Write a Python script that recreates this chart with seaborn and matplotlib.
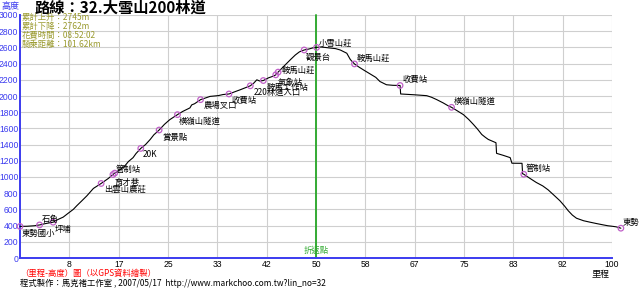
import numpy as np
import pandas as pd
import matplotlib
matplotlib.use("Agg")
import matplotlib.pyplot as plt
from matplotlib import font_manager
import seaborn as sns

# ---------------- data ----------------
dist = [0.0, 1.2, 2.4, 3.3, 4.3, 5.6, 6.4, 7.3, 8.2, 9.0, 9.6, 10.5, 11.3, 12.4, 13.7,
        14.9, 15.7, 16.0, 16.8, 17.7, 18.3, 19.1, 19.6, 20.4, 21.2, 22.0, 22.6, 23.5,
        24.4, 25.3, 26.6, 27.5, 28.7, 29.0, 29.5, 30.5, 31.3, 32.1, 33.5, 34.3, 35.3,
        36.2, 37.2, 38.0, 38.9, 39.5, 40.0, 40.5, 41.1, 42.0, 42.8, 43.2, 43.6, 44.8,
        45.7, 46.5, 47.2, 48.0, 48.8, 49.5, 50.1, 50.8, 51.5, 52.4, 53.3, 54.1, 55.2,
        55.8, 56.5, 57.2, 58.0, 59.4, 60.1, 60.8, 61.9, 63.0, 64.2, 64.3, 66.4, 67.6,
        68.7, 69.5, 70.4, 71.5, 72.3, 72.9, 73.8, 74.9, 75.8, 76.6, 77.3, 78.0, 78.6,
        79.1, 80.4, 80.5, 81.6, 82.8, 83.1, 84.8, 84.9, 85.1, 86.1, 87.2, 88.3, 89.2,
        90.2, 91.2, 92.0, 92.6, 93.3, 94.0, 95.2, 96.3, 97.4, 98.5, 99.3, 99.9, 100.7,
        101.5]
elev = [390, 392, 398, 408, 425, 442, 475, 505, 556, 600, 646, 710, 768, 859, 920,
        981, 1030, 1048, 1085, 1136, 1190, 1239, 1290, 1353, 1400, 1464, 1520, 1580,
        1650, 1708, 1770, 1810, 1853, 1890, 1905, 1955, 1975, 1995, 2005, 2018, 2025,
        2050, 2077, 2100, 2126, 2160, 2200, 2185, 2191, 2225, 2245, 2261, 2295, 2384,
        2450, 2506, 2545, 2568, 2580, 2595, 2600, 2605, 2600, 2592, 2585, 2568, 2528,
        2450, 2396, 2360, 2323, 2261, 2230, 2179, 2139, 2132, 2130, 2025, 2016, 2010,
        2004, 1985, 1955, 1914, 1880, 1860, 1820, 1770, 1710, 1648, 1590, 1525, 1490,
        1464, 1423, 1292, 1268, 1239, 1170, 1169, 1040, 1034, 985, 933, 890, 842,
        775, 707, 640, 584, 530, 491, 460, 442, 425, 409, 398, 393, 385,
        368]

wp_names = ["東勢國小", "石角", "坪埔", "出雲山農莊", "育才巷", "管制站", "20K", "賞景點",
            "橫嶺山隧道", "農場叉口", "收費站", "220林道入口", "鞍馬工作站", "氣象站",
            "鞍馬山莊", "觀景台", "小雪山莊", "鞍馬山莊", "收費站", "橫嶺山隧道",
            "管制站", "東勢"]
wp_dist = [0.0, 3.3, 5.6, 13.7, 15.7, 16.0, 20.4, 23.5, 26.6, 30.5, 35.3, 38.9, 41.1,
           43.2, 43.6, 48.0, 50.1, 56.5, 64.2, 72.9, 85.1, 101.5]
wp_elev = [390, 408, 442, 920, 1030, 1048, 1353, 1580, 1770, 1955, 2025, 2126, 2191,
           2261, 2295, 2568, 2600, 2396, 2130, 1860, 1034, 368]

xtick_labels = ["8", "17", "25", "33", "42", "50", "58", "67", "75", "83", "92", "100"]
yticks = list(range(0, 3001, 200))
turn_x = 50

title = "路線：32.大雪山200林道"
stats = ["累計上升：2745m", "累計下降：2762m", "花費時間：08:52:02", "騎乘距離：101.62km"]

# ---------------- style ----------------
sns.set_style("white")
plt.rcParams['font.family'] = ['Noto Sans CJK TC', 'DejaVu Sans']

installed = {f.name for f in font_manager.fontManager.ttflist}
num_family = "Liberation Sans Narrow" if "Liberation Sans Narrow" in installed else "Liberation Sans"

BLUE = "#3b3bef"
OLIVE = "#9a9a2e"
PURPLE = "#c060c8"
GREEN = "#33aa33"

fig = plt.figure(figsize=(6.4, 2.89), dpi=100)
ax = fig.add_axes([20/640, 31/289, 592/640, 243/289])

df = pd.DataFrame({"dist": dist, "elev": elev})
wp = pd.DataFrame({"name": wp_names, "dist": wp_dist, "elev": wp_elev})

ax.set_xlim(0, 100)
ax.set_ylim(0, 3000)

xt = [100 * (i + 1) / 12 for i in range(12)]
ax.set_xticks(xt)
ax.set_xticklabels(xtick_labels)
ax.set_yticks(yticks)
ax.set_yticklabels([str(v) for v in yticks])
ax.grid(True, color="#cfcfcf", linewidth=0.8)
ax.set_axisbelow(True)

for s in ["top", "right"]:
    ax.spines[s].set_visible(False)
for s in ["left", "bottom"]:
    ax.spines[s].set_color(BLUE)
    ax.spines[s].set_linewidth(1.4)

ax.tick_params(axis="both", length=0, labelsize=6.2)
ax.tick_params(axis="y", pad=1.2, labelcolor=BLUE)
ax.tick_params(axis="x", pad=1.5, labelcolor="black")
for lab in ax.get_xticklabels() + ax.get_yticklabels():
    lab.set_family(num_family)

ax.axvline(turn_x, color=GREEN, linewidth=1.4, zorder=2)
ax.text(turn_x, 100, "折返點", color=GREEN, ha="center", va="center", fontsize=6)

sns.lineplot(data=df, x="dist", y="elev", ax=ax, color="black", linewidth=0.8,
             sort=False, estimator=None, zorder=3)
for l in ax.lines:
    l.set_clip_on(False)
sns.scatterplot(data=wp, x="dist", y="elev", ax=ax, marker="o", s=16,
                facecolor="none", edgecolor=PURPLE, linewidth=0.9, zorder=4, clip_on=False)
ax.set_xlabel("")
ax.set_ylabel("")

offsets = [(2, 7), (2, -5), (2, 7), (3, 6), (2, 8), (1, -4), (2, 6), (3, 7), (1, 7),
           (3, 6), (3, 7), (3, 7), (3, 7), (2, 8), (4, -2), (2, 7), (2, -4), (2, -5),
           (2, -6), (2, -6), (2, -6), (2, -6)]
for (n, x, y), (dx, dy) in zip(zip(wp_names, wp_dist, wp_elev), offsets):
    ax.annotate(n, (x, y), xytext=(dx, -dy), textcoords="offset pixels",
                ha="left", va="center", fontsize=6, color="black", annotation_clip=False,
                zorder=5)

# ---------------- texts ----------------
fig.text(2/640, 1 - 7/289, "高度", color=BLUE, fontsize=6.5, ha="left", va="center")
fig.text(35/640, 1 - 7.5/289, title, color="black", fontsize=11, fontweight="bold",
         ha="left", va="center")
for i, s in enumerate(stats):
    fig.text(22/640, 1 - (17 + 9.0 * i)/289, s, color=OLIVE, fontsize=6.0,
             ha="left", va="center")
fig.text(20/640, 1 - 273/289, "（里程-高度）圖（以GPS資料繪製）", color="red",
         fontsize=6, ha="left", va="center")
fig.text(20/640, 1 - 283.5/289,
         "程式製作：馬克褚工作室 , 2007/05/17  http://www.markchoo.com.tw?lin_no=32",
         color="black", fontsize=6, ha="left", va="center")
fig.text(600/640, 1 - 274/289, "里程", color="black", fontsize=6.5, ha="center",
         va="center")

fig.savefig("out.png", dpi=100)
